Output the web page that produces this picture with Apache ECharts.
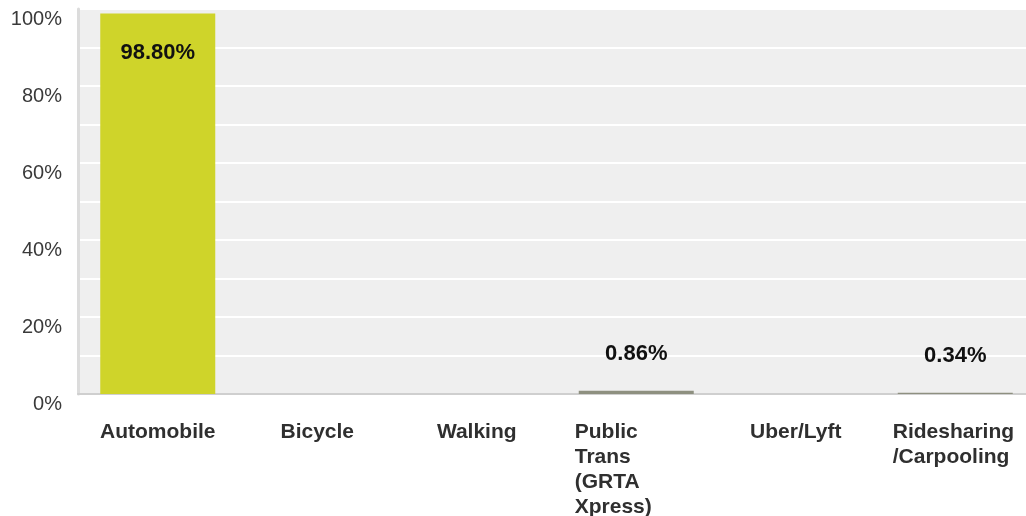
<!DOCTYPE html>
<html>
<head>
<meta charset="utf-8">
<script src="https://cdn.jsdelivr.net/npm/echarts@6/dist/echarts.min.js"></script>
<style>
html,body{margin:0;padding:0;background:#fff;overflow:hidden;width:1026px;height:516px;}
#chart{width:1045px;height:516px;}
</style>
</head>
<body>
<div id="chart"></div>
<script>
var categories = ['Automobile', 'Bicycle', 'Walking', 'Public\nTrans\n(GRTA\nXpress)', 'Uber/Lyft', 'Ridesharing\n/Carpooling'];
var values = [98.80, 0, 0, 0.86, 0, 0.34];
var barColors = ['#cfd42a', '#cfd42a', '#cfd42a', '#8e9080', '#cfd42a', '#8e9080'];
var yTickValues = [0, 20, 40, 60, 80, 100];

var chart = echarts.init(document.getElementById('chart'));

var seriesData = values.map(function (v, i) {
  var item = { value: v, itemStyle: { color: barColors[i] } };
  if (v === 0) {
    item.label = { show: false };
  } else if (v > 50) {
    item.label = { show: true, position: 'insideTop', distance: 28 };
  } else {
    item.label = { show: true, position: 'top', distance: 26 };
  }
  return item;
});

var catFont = {
  color: '#2f2f2f',
  fontFamily: 'Liberation Sans, Arial, sans-serif',
  fontWeight: 'bold', fontSize: 21, lineHeight: 25
};

chart.setOption({
  animation: false,
  grid: {
    left: 78, top: 9, width: 957, bottom: 122,
    containLabel: false,
    outerBoundsMode: 'none',
    show: true, backgroundColor: '#efefef', borderWidth: 0
  },
  xAxis: {
    type: 'category',
    data: categories,
    axisTick: { show: false },
    axisLine: { show: true, lineStyle: { color: '#cfcfcf', width: 2 } },
    axisLabel: Object.assign({
      interval: 0,
      margin: 26,
      formatter: function (value) {
        if (value.indexOf('(') >= 0) {
          return value.split('\n').map(function (s) { return '{p|' + s + '}'; }).join('\n');
        }
        if (value.indexOf('\n') >= 0) {
          return value.split('\n').map(function (s) { return '{r|' + s + '}'; }).join('\n');
        }
        return value;
      },
      rich: {
        p: Object.assign({ width: 123, align: 'left' }, catFont),
        r: Object.assign({ width: 125, align: 'left' }, catFont)
      }
    }, catFont)
  },
  yAxis: {
    type: 'value',
    min: 0, max: 100, interval: 10,
    axisLine: { show: true, lineStyle: { color: '#dcdcdc', width: 3 } },
    axisTick: { show: false },
    splitLine: { show: true, lineStyle: { color: '#ffffff', width: 2 } },
    axisLabel: {
      margin: 16,
      color: '#3a3a3a',
      fontFamily: 'Liberation Sans, Arial, sans-serif',
      fontSize: 20,
      verticalAlign: 'top',
      formatter: function (v) {
        return yTickValues.indexOf(v) >= 0 ? v + '%' : '';
      }
    }
  },
  series: [{
    type: 'bar',
    data: seriesData,
    barWidth: 115,
    label: {
      show: true,
      color: '#111',
      fontFamily: 'Liberation Sans, Arial, sans-serif',
      fontWeight: 'bold',
      fontSize: 22,
      formatter: function (p) { return p.value.toFixed(2) + '%'; }
    }
  }]
});
</script>
</body>
</html>
